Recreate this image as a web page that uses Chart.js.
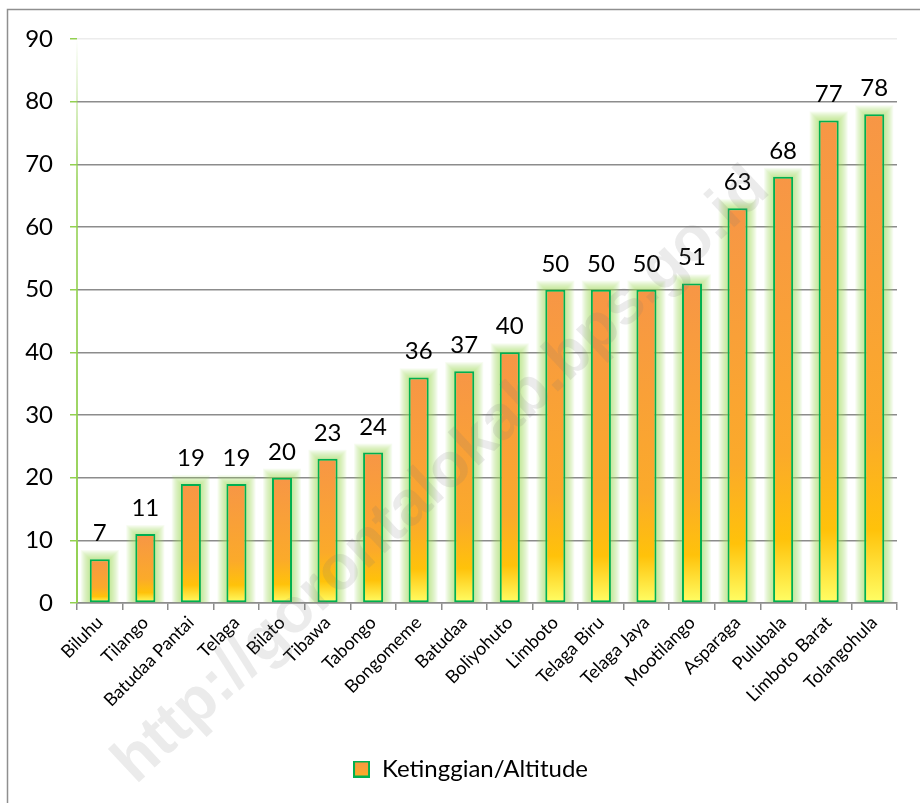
<!DOCTYPE html>
<html>
<head>
<meta charset="utf-8">
<script src="https://cdn.jsdelivr.net/npm/chart.js@4/dist/chart.umd.min.js"></script>
<style>
  body { margin: 0; background: #fff; }
  #wrap { width: 920px; height: 803px; position: relative; }
</style>
</head>
<body>
<div id="wrap"><canvas id="altChart"></canvas></div>
<script>
const kecamatan = ['Biluhu', 'Tilango', 'Batudaa Pantai', 'Telaga', 'Bilato', 'Tibawa', 'Tabongo',
  'Bongomeme', 'Batudaa', 'Boliyohuto', 'Limboto', 'Telaga Biru', 'Telaga Jaya', 'Mootilango',
  'Asparaga', 'Pulubala', 'Limboto Barat', 'Tolangohula'];
const altitude = [7, 11, 19, 19, 20, 23, 24, 36, 37, 40, 50, 50, 50, 51, 63, 68, 77, 78];
const seriesName = 'Ketinggian/Altitude';
const watermark = 'http://gorontalokab.bps.go.id';

const FONT = 'Lato, "Open Sans", sans-serif';

function barGradient(ctx, top, bottom) {
    var g = ctx.createLinearGradient(0, top, 0, bottom);
    g.addColorStop(0, '#F79646');
    g.addColorStop(0.65, '#FBAA2A');
    g.addColorStop(0.85, '#FFC20A');
    g.addColorStop(1, '#FFFF66');
    return g;
}

// little legend swatch
var swatch = document.createElement('canvas');
swatch.width = 17; swatch.height = 17;
(function () {
    var c = swatch.getContext('2d');
    c.fillStyle = barGradient(c, 0, 22);
    c.fillRect(1, 1, 15, 15);
    c.strokeStyle = '#00B050';
    c.lineWidth = 2;
    c.strokeRect(1, 1, 15, 15);
})();

const framePlugin = {
    id: 'frame',
    beforeDraw(chart) {
        const ctx = chart.ctx;
        ctx.save();
        ctx.fillStyle = '#fff';
        ctx.fillRect(0, 0, chart.width, chart.height);
        ctx.strokeStyle = '#8f8f8f';
        ctx.lineWidth = 1.5;
        ctx.beginPath();
        ctx.moveTo(7.5, chart.height + 5);
        ctx.lineTo(7.5, 9.5);
        ctx.lineTo(chart.width + 5, 9.5);
        ctx.stroke();
        ctx.restore();
    },
    afterLayout(chart) {
        // legend sits a little right of the canvas centre
        if (chart.legend) {
            chart.legend.left += 22;
            chart.legend.right += 22;
        }
    }
};

const yLinePlugin = {
    id: 'yLine',
    beforeDatasetsDraw(chart) {
        const ctx = chart.ctx, a = chart.chartArea;
        const g = ctx.createLinearGradient(0, a.bottom, 0, a.top);
        g.addColorStop(0, '#92D050');
        g.addColorStop(0.75, 'rgba(146,208,80,0.75)');
        g.addColorStop(1, 'rgba(146,208,80,0)');
        ctx.save();
        ctx.strokeStyle = g;
        ctx.lineWidth = 2;
        ctx.beginPath();
        ctx.moveTo(a.left, a.bottom);
        ctx.lineTo(a.left, a.top);
        ctx.stroke();
        ctx.restore();
    }
};

// soft green glow round each bar, then the value labels on top
const glowLabelPlugin = {
    id: 'glowLabels',
    beforeDatasetsDraw(chart) {
        const ctx = chart.ctx;
        const meta = chart.getDatasetMeta(0);
        ctx.save();
        ctx.beginPath();
        ctx.rect(chart.chartArea.left + 1, 0, chart.chartArea.width, chart.chartArea.bottom);
        ctx.clip();
        ctx.fillStyle = 'rgba(160,215,95,0.085)';
        meta.data.forEach(function (bar) {
            const half = bar.width / 2;
            for (let k = 1; k <= 9; k++) {
                ctx.fillRect(bar.x - half - k, bar.y - k, bar.width + 2 * k, bar.base - bar.y + k);
            }
        });
        ctx.restore();
    },
    afterDatasetsDraw(chart) {
        const ctx = chart.ctx;
        const meta = chart.getDatasetMeta(0);
        ctx.save();
        ctx.fillStyle = '#000';
        ctx.font = '24px ' + FONT;
        ctx.textAlign = 'center';
        ctx.textBaseline = 'alphabetic';
        meta.data.forEach(function (bar, i) {
            ctx.fillText(String(altitude[i]), bar.x, bar.y - 18);
        });
        ctx.restore();
    }
};

const watermarkPlugin = {
    id: 'watermark',
    afterDraw(chart) {
        const ctx = chart.ctx;
        ctx.save();
        ctx.translate(442, 476);
        ctx.rotate(-43 * Math.PI / 180);
        let size = 56;
        ctx.font = 'bold ' + size + 'px "Liberation Sans", Arial, sans-serif';
        const w = ctx.measureText(watermark).width;
        size = size * 870 / w;
        ctx.font = 'bold ' + size + 'px "Liberation Sans", Arial, sans-serif';
        ctx.fillStyle = 'rgba(120,120,120,0.15)';
        ctx.textAlign = 'center';
        ctx.textBaseline = 'middle';
        ctx.fillText(watermark, 0, 0);
        ctx.restore();
    }
};

const altData = {
    labels: kecamatan,
    datasets: [{
        label: seriesName,
        data: altitude,
        backgroundColor: function (context) {
            const chart = context.chart;
            if (!chart.chartArea || typeof context.raw !== 'number') return '#F9A030';
            const y = chart.scales.y;
            return barGradient(chart.ctx, y.getPixelForValue(context.raw), y.getPixelForValue(0));
        },
        borderColor: '#00B050',
        borderWidth: 2,
        borderSkipped: false,
        barPercentage: 0.44,
        categoryPercentage: 1,
        pointStyle: swatch
    }]
};

const altConfig = {
    type: 'bar',
    data: altData,
    options: {
        maintainAspectRatio: false,
        responsive: true,
        animation: false,
        layout: { padding: { left: 0, right: 23, top: 39, bottom: 12 } },
        plugins: {
            tooltip: { enabled: false },
            legend: {
                position: 'bottom',
                labels: {
                    usePointStyle: true,
                    boxWidth: 17,
                    boxHeight: 17,
                    pointStyleWidth: 17,
                    color: '#000',
                    font: { family: FONT, size: 24 },
                    padding: 8
                }
            }
        },
        scales: {
            x: {
                offset: true,
                grid: { offset: true, drawOnChartArea: false, tickLength: 7, color: '#8c8c8c', lineWidth: 1.5 },
                border: { color: '#8c8c8c', width: 1.5 },
                ticks: {
                    minRotation: 45, maxRotation: 45, autoSkip: false,
                    color: '#000', padding: 2,
                    font: { family: FONT, size: 18 }
                },
                afterFit: function (scale) { scale.height = 146; }
            },
            y: {
                min: 0, max: 90,
                grid: {
                    color: function (c) { return c.tick && c.tick.value === 90 ? '#ececec' : '#8c8c8c'; },
                    tickColor: '#92D050',
                    tickLength: 7,
                    lineWidth: 1.5
                },
                border: { display: false },
                ticks: {
                    stepSize: 10, color: '#000', padding: 17,
                    font: { family: FONT, size: 24 }
                },
                afterFit: function (scale) { scale.width = 77; }
            }
        }
    },
    plugins: [framePlugin, yLinePlugin, glowLabelPlugin, watermarkPlugin]
};

var altChart = new Chart(document.getElementById('altChart'), altConfig);
</script>
</body>
</html>
